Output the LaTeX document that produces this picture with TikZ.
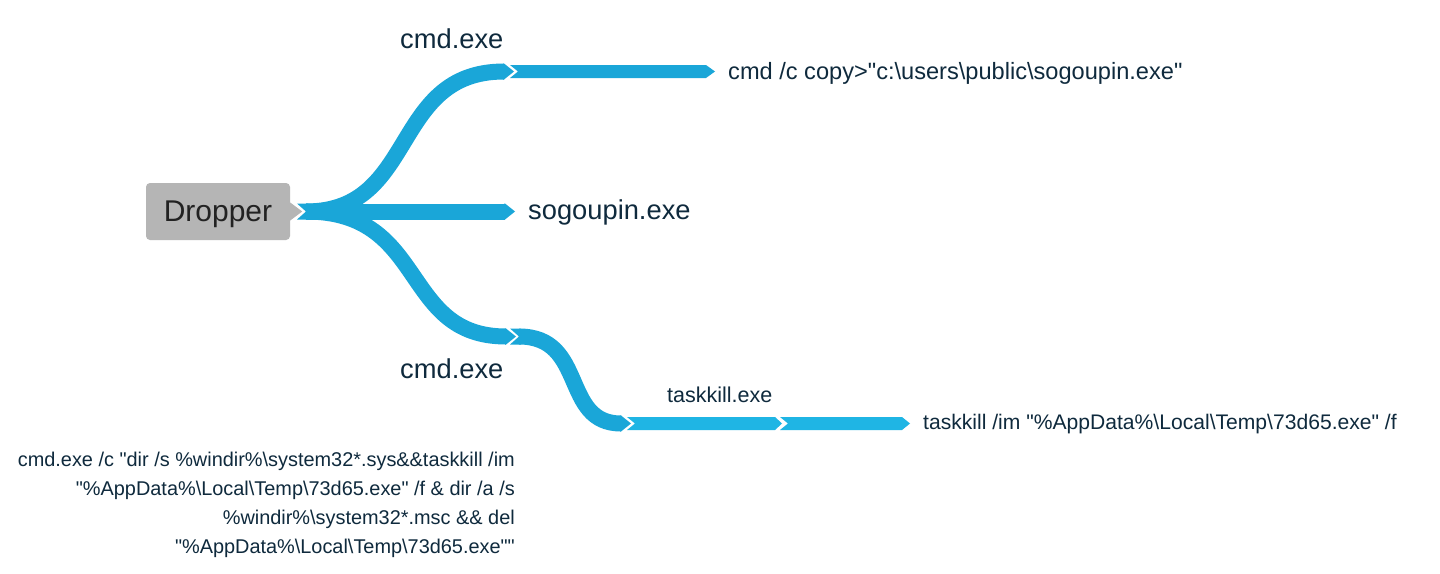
\documentclass[tikz,border=0pt]{standalone}
\usepackage{fontspec}
\setmainfont{Liberation Sans}[Ligatures=TeXOff]
\definecolor{flowA}{HTML}{1AA6D8}
\definecolor{flowB}{HTML}{1FB5E4}
\definecolor{txt}{HTML}{0F2A3D}
\definecolor{boxgray}{HTML}{B5B5B5}
\definecolor{boxtxt}{HTML}{222222}
\tikzset{
  flowline/.style={draw=flowA, line width=16pt, line cap=butt},
  lbl/.style={text=txt, inner sep=0pt, font=\fontsize{27.3}{31}\selectfont},
  smalllbl/.style={text=txt, inner sep=0pt, font=\fontsize{21.5}{26}\selectfont},
  cmdlbl/.style={text=txt, inner sep=0pt, font=\fontsize{23.6}{28}\selectfont},
  boxnode/.style={fill=boxgray, rounded corners=4pt, minimum width=144pt, minimum height=57pt, inner sep=0pt, text=boxtxt, font=\fontsize{30}{34}\selectfont, text height=20pt, text depth=0pt}
}
\begin{document}
\begin{tikzpicture}[x=1pt,y=-1pt]
\useasboundingbox (0,0) rectangle (1440,573);
\fill[white] (0,0) rectangle (1440,573);

% Dropper box with pointer
\node[boxnode] (dropper) at (218,211.5) {Dropper};
\fill[boxgray] ([yshift=9pt]dropper.east) -- ++(12,9) -- ++(-12,9) -- cycle;

% hub
\coordinate (hub) at (306,211.5);
\fill[flowA] (297,203.5) -- (308,203.5) -- (308,219.5) -- (297,219.5) -- (hub) -- cycle;

% top branch (cmd.exe)
\coordinate (topend) at (504,71.5);
\draw[flowline] (hub) .. controls (418,211.5) and (390,71.5) .. (topend);
\fill[flowA] (503,63.5) -- (504,63.5) -- (514,71.5) -- (504,79.5) -- (503,79.5) -- cycle;
\fill[flowA] (510,65) -- (706,65) -- (715,71.5) -- (706,78) -- (510,78) -- (518,71.5) -- cycle;

% middle branch (sogoupin.exe)
\coordinate (midend) at (505,211.5);
\draw[flowline] (hub) -- (midend);
\fill[flowA] (504,203.5) -- (505,203.5) -- (515,211.5) -- (505,219.5) -- (504,219.5) -- cycle;

% bottom branch (cmd.exe)
\coordinate (botend) at (506,336.5);
\draw[flowline] (hub) .. controls (428,211.5) and (400,336.5) .. (botend);
\fill[flowA] (505,328.5) -- (506,328.5) -- (516,336.5) -- (506,344.5) -- (505,344.5) -- cycle;

% second level under bottom cmd.exe
\coordinate (bot2start) at (519,336.5);
\coordinate (bot2end) at (621,423.5);
\fill[flowA] (510,328.5) -- (521,328.5) -- (521,344.5) -- (510,344.5) -- (bot2start) -- cycle;
\draw[flowline] (bot2start) .. controls (587,336.5) and (561,423.5) .. (bot2end);
\fill[flowA] (620,415.5) -- (621,415.5) -- (631,423.5) -- (621,431.5) -- (620,431.5) -- cycle;

% taskkill segments
\fill[flowB] (627,417) -- (775,417) -- (782,423.5) -- (775,430) -- (627,430) -- (635,423.5) -- cycle;
\fill[flowB] (780,417) -- (902,417) -- (910,423.5) -- (902,430) -- (780,430) -- (788,423.5) -- cycle;

% labels
\node[lbl, anchor=base west] (cmdA) at (400,48) {cmd.exe};
\node[lbl, anchor=base west] (sogou) at (528,219) {sogoupin.exe};
\node[lbl, anchor=base west] (cmdB) at (400,378) {cmd.exe};
\node[cmdlbl, anchor=base west] (copy) at (728,79) {cmd /c copy>"c:\textbackslash users\textbackslash public\textbackslash sogoupin.exe"};
\node[smalllbl, anchor=base west] (tkexe) at (667,402) {taskkill.exe};
\node[cmdlbl, anchor=base west, font=\fontsize{21.1}{26}\selectfont] (tkcmd) at (923,429) {taskkill /im "\%AppData\%\textbackslash Local\textbackslash Temp\textbackslash 73d65.exe" /f};
\node[text=txt, inner sep=0pt, align=right, anchor=base east, font=\fontsize{19.9}{28.7}\selectfont] (longcmd) at (515,553)
 {cmd.exe /c "dir /s \%windir\%\textbackslash system32*.sys\&\&taskkill /im\\
  "\%AppData\%\textbackslash Local\textbackslash Temp\textbackslash 73d65.exe" /f \& dir /a /s\\
  \%windir\%\textbackslash system32*.msc \&\& del\\
  "\%AppData\%\textbackslash Local\textbackslash Temp\textbackslash 73d65.exe""};
\end{tikzpicture}
\end{document}
